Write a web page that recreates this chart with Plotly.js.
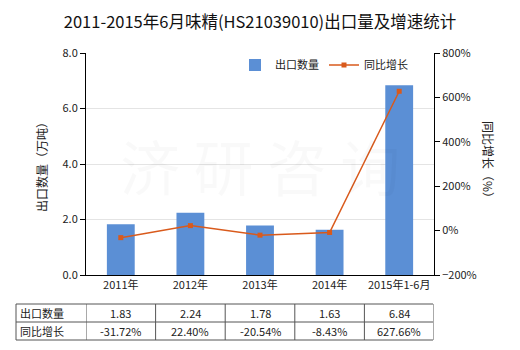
<!DOCTYPE html>
<html><head><meta charset="utf-8">
<script src="https://cdn.plot.ly/plotly-3.0.1.min.js"></script>
<style>body{margin:0;background:#fff}#c{width:520px;height:350px}</style>
</head><body><div id="c"></div>
<script>
const categories = ['2011年','2012年','2013年','2014年','2015年1-6月'];
const exportQty = [1.83, 2.24, 1.78, 1.63, 6.84];
const growthPct = [-31.72, 22.40, -20.54, -8.43, 627.66];
const qtyLabels = ['1.83','2.24','1.78','1.63','6.84'];
const growthLabels = ['-31.72%','22.40%','-20.54%','-8.43%','627.66%'];
const rowNames = ['出口数量','同比增长'];

const F = '"Noto Sans CJK SC","Microsoft YaHei",sans-serif';
const xi = categories.map((_, i) => i);

const traces = [
  {type:'bar', name:'出口数量', x:xi, y:exportQty, width:0.4,
   marker:{color:'#5b8fd5'}, yaxis:'y'},
  {type:'scatter', mode:'lines+markers', name:'同比增长', x:xi, y:growthPct,
   yaxis:'y2', line:{color:'#d95a1c', width:1.5},
   marker:{symbol:'square', size:5, color:'#d95a1c'}}
];

const L = 86, R = 434, PW = R - L;
const px = v => (v - L) / PW;
const PT = 53, PB = 275, PH = PB - PT;
const py = v => (PB - v) / PH;

const shapes = [];
const annotations = [];
const tblTop = 304, tblMid = 322, tblBot = 340;
[tblTop, tblMid, tblBot].forEach(y => shapes.push({type:'line', xref:'paper', yref:'paper',
  x0:px(16), x1:px(433), y0:py(y), y1:py(y), line:{color:'#555', width:1}}));
shapes.push({type:'line', xref:'paper', yref:'paper', x0:px(16), x1:px(16), y0:py(tblTop), y1:py(tblBot), line:{color:'#555', width:1}});
for (let i = 0; i <= categories.length; i++) {
  shapes.push({type:'line', xref:'x', yref:'paper', x0:i-0.5, x1:i-0.5, y0:py(tblTop), y1:py(tblBot), line:{color:'#555', width:1}});
}
rowNames.forEach((n, r) => annotations.push({xref:'paper', yref:'paper', x:px(18), y:py(r ? 331 : 313),
  xanchor:'left', yanchor:'middle', text:n, showarrow:false, font:{size:11, color:'#222', family:F}}));
categories.forEach((c, i) => {
  annotations.push({xref:'x', yref:'paper', x:i, y:py(313), text:qtyLabels[i], showarrow:false,
    xanchor:'center', yanchor:'middle', font:{size:11, color:'#222', family:F}});
  annotations.push({xref:'x', yref:'paper', x:i, y:py(331), text:growthLabels[i], showarrow:false,
    xanchor:'center', yanchor:'middle', font:{size:11, color:'#222', family:F}});
});
annotations.push({xref:'paper', yref:'paper', x:px(489), y:py(163), text:'同比增长（%）', textangle:90,
  showarrow:false, xanchor:'center', yanchor:'middle', font:{size:12, color:'#222', family:F}});
annotations.push({xref:'paper', yref:'paper', x:0.5, y:0.5, text:'济 研 咨 询', showarrow:false,
  font:{size:60, color:'rgba(0,0,0,0.025)', family:F}});

const layout = {
  width:520, height:350,
  margin:{l:L, r:520-R, t:PT, b:350-PB},
  paper_bgcolor:'#fff', plot_bgcolor:'#fff',
  font:{family:F, size:11, color:'#222'},
  title:{text:'2011-2015年6月味精(HS21039010)出口量及增速统计', x:0.5, xanchor:'center', y:1-22/350, yanchor:'middle',
    font:{size:16.5, color:'#111', family:F}},
  showlegend:true,
  legend:{orientation:'h', x:px(235), y:py(65), xanchor:'left', yanchor:'middle',
    font:{size:11, color:'#222', family:F}, bgcolor:'rgba(0,0,0,0)', traceorder:'normal', itemwidth:30},
  xaxis:{tickmode:'array', tickvals:xi, ticktext:categories, range:[-0.5, 4.5],
    showline:true, linecolor:'#000', linewidth:1, ticks:'', showgrid:false, zeroline:false,
    tickfont:{size:11, color:'#222'}, fixedrange:true},
  yaxis:{range:[0, 8], dtick:2, tickformat:'.1f', showline:true, linecolor:'#000', linewidth:1,
    ticks:'outside', ticklen:5, tickcolor:'#000', gridcolor:'#e4e4e4', zeroline:false,
    tickfont:{size:11, color:'#222'},
    title:{text:'出口数量（万吨）', font:{size:12, color:'#222'}, standoff:12}},
  yaxis2:{range:[-200, 800], dtick:200, ticksuffix:'%', overlaying:'y', side:'right',
    showline:true, linecolor:'#000', linewidth:1, ticks:'outside', ticklen:5, tickcolor:'#000',
    showgrid:false, zeroline:false, tickfont:{size:11, color:'#222'}},
  shapes:shapes, annotations:annotations
};
Plotly.newPlot('c', traces, layout, {displayModeBar:false, staticPlot:true});
</script></body></html>
